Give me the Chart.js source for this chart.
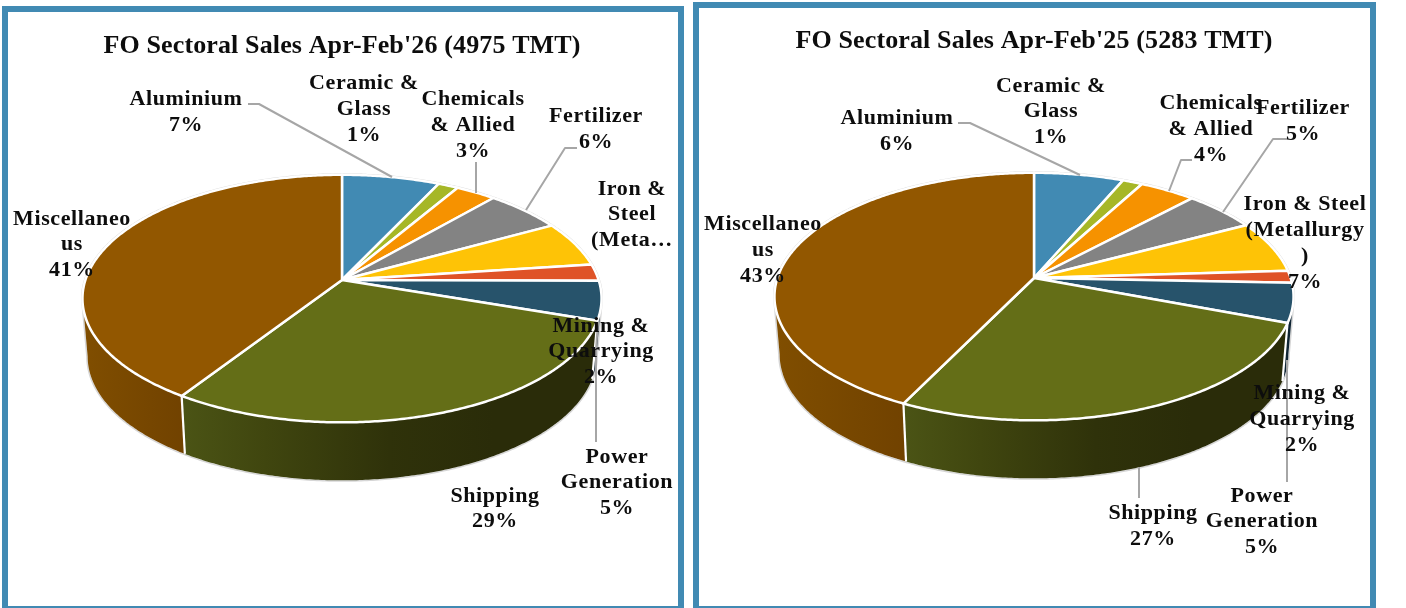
<!DOCTYPE html>
<html><head><meta charset="utf-8">
<script src="https://cdn.jsdelivr.net/npm/chart.js@4"></script>
<style>
html,body{margin:0;padding:0;background:#fff;overflow:hidden;width:1406px;height:608px}
.panel{position:absolute;box-sizing:border-box;border:6px solid #418AB3;background:#fff}
canvas{position:absolute;top:0}
</style></head><body>
<div class="panel" style="left:2px;top:6px;width:682px;height:606px"></div>
<div class="panel" style="left:693px;top:2px;width:683px;height:610px"></div>
<canvas id="c1" width="684" height="608" style="left:0;width:684px;height:608px"></canvas>
<canvas id="c2" width="680" height="608" style="left:694px;width:680px;height:608px"></canvas>
<script>
const categories = ["Aluminium","Ceramic & Glass","Chemicals & Allied","Fertilizer","Iron & Steel (Metallurgy)","Mining & Quarrying","Power Generation","Shipping","Miscellaneous"];
const sales26 = [7.05,1.45,2.9,5.6,5.9,2.2,5.1,29.0,40.8];
const sales25 = [6.45,1.45,4.05,5.3,6.75,1.6,5.1,26.5,42.7];
const title26 = "FO Sectoral Sales Apr-Feb'26 (4975 TMT)";
const title25 = "FO Sectoral Sales Apr-Feb'25 (5283 TMT)";
const lines26 = [["Aluminium"],["Ceramic &","Glass"],["Chemicals","& Allied"],["Fertilizer"],["Iron &","Steel","(Meta…"],["Mining &","Quarrying"],["Power","Generation"],["Shipping"],["Miscellaneo","us"]];
const lines25 = [["Aluminium"],["Ceramic &","Glass"],["Chemicals","& Allied"],["Fertilizer"],["Iron & Steel","(Metallurgy",")"],["Mining &","Quarrying"],["Power","Generation"],["Shipping"],["Miscellaneo","us"]];
const hidePct26 = [4];
const hidePct25 = [];
const colors = ["#418AB3","#A6B727","#F69200","#838383","#FEC306","#DF5327","#27536B","#646E17","#925700"];

// layout of the hand-placed labels: [centre x, first line centre y, line step] (page coordinates)
const labelPos26 = [[186,99,26],[364,83,26],[473,99,26],[596,116,26],[632,189,25.5],[601,326,25.5],[617,457,25.5],[495,496,25.5],[72,219,25.5]];
const labelPos25 = [[897,118,26],[1051,86,25.5],[1211,103,26],[1303,108,26],[1305,204,26],[1302,393,26],[1262,496,25.5],[1153,513,26],[763,224,26]];
const leaders26 = [[[248,104],[259,104],[392,177]],[[476,162],[476,193]],[[577,148],[565,148],[526,210]],[[596,442],[596,350],[598,322]]];
const leaders25 = [[[958,123],[970,123],[1080,175]],[[1192,160],[1181,160],[1169,191]],[[1287,139],[1273,139],[1223,212]],[[1139,467],[1139,498]],[[1287,482],[1287,360]]];

const K = 0.15, YR = 0.4715, DEPTH = 58, XS = 0.98;
const wallStops = {
  6:[[0,"#0f2433"],[1,"#0f2433"]],
  7:[[0,"#4b5415"],[0.2,"#40460f"],[0.5,"#2f320a"],[0.75,"#2a2c09"],[1,"#2a2c09"]],
  8:[[0,"#804e00"],[1,"#714200"]]
};
function pieProjection(chart){
  const ctx = chart.ctx;
  const project = (cx,cy,r,a)=>{const u=Math.cos(a),v=Math.sin(a),w=1-K*v;return [cx+r*u/w,cy+r*YR*v/w];};
  const low = (cx,p)=>[cx+(p[0]-cx)*XS,p[1]+DEPTH];
  const arcs = chart.getDatasetMeta(0).data;
  const {x:cx,y:cy,outerRadius:r} = arcs[0].getProps(['x','y','outerRadius'],true);
  const sil = Math.asin(K);
  const vis0 = sil, vis1 = Math.PI - sil;
  const sample = (a0,a1)=>{const n=Math.max(2,Math.ceil(Math.abs(a1-a0)/0.01));const o=[];for(let i=0;i<=n;i++)o.push(project(cx,cy,r,a0+(a1-a0)*i/n));return o;};
  ctx.save();
  ctx.beginPath();
  sample(vis1-2*Math.PI,vis0).forEach((p,i)=>i?ctx.lineTo(p[0],p[1]):ctx.moveTo(p[0],p[1]));
  sample(vis0,vis1).map(p=>low(cx,p)).forEach(p=>ctx.lineTo(p[0],p[1]));
  ctx.closePath();
  ctx.lineWidth=3;ctx.strokeStyle="#d6d6d6";ctx.stroke();
  ctx.fillStyle="#fff";ctx.fill();
  const seams=[];
  arcs.forEach((arc,i)=>{
    const {startAngle:s,endAngle:e}=arc.getProps(['startAngle','endAngle'],true);
    const a0=Math.max(s,vis0),a1=Math.min(e,vis1);
    if(a1<=a0) return;
    const top=sample(a0,a1),bot=top.map(p=>low(cx,p));
    const xs=top.concat(bot).map(p=>p[0]);
    const xmin=Math.min(...xs),xmax=Math.max(...xs);
    const g=ctx.createLinearGradient(xmin,0,xmax,0);
    (wallStops[i]||[[0,"#333"],[1,"#333"]]).forEach(t=>g.addColorStop(t[0],t[1]));
    ctx.beginPath();
    top.forEach((p,j)=>j?ctx.lineTo(p[0],p[1]):ctx.moveTo(p[0],p[1]));
    bot.reverse().forEach(p=>ctx.lineTo(p[0],p[1]));
    ctx.closePath();ctx.fillStyle=g;ctx.fill();
    if(s>vis0&&s<vis1) seams.push(s);
  });
  ctx.strokeStyle="#fff";ctx.lineWidth=2.2;
  seams.forEach(a=>{const p=project(cx,cy,r,a),q=low(cx,p);ctx.beginPath();ctx.moveTo(p[0],p[1]);ctx.lineTo(q[0],q[1]);ctx.stroke();});
  arcs.forEach((arc,i)=>{
    const {startAngle:s,endAngle:e}=arc.getProps(['startAngle','endAngle'],true);
    ctx.beginPath();ctx.moveTo(cx,cy);
    sample(s,e).forEach(p=>ctx.lineTo(p[0],p[1]));
    ctx.closePath();
    ctx.fillStyle=colors[i];ctx.fill();
    ctx.lineJoin="round";ctx.strokeStyle="#fff";ctx.lineWidth=2.5;ctx.stroke();
  });
  ctx.restore();
}
function makeChart(id,values,title,lines,hide,pos,leaders,offX,titlePad){
  const labelPlugin={
    id:'pieLabels',
    beforeDraw(chart){chart.ctx.letterSpacing="0.13px";},
    beforeDatasetDraw(chart){chart.ctx.letterSpacing="0px";pieProjection(chart);return false;},
    afterDraw(chart){
      const ctx=chart.ctx;ctx.save();
      ctx.strokeStyle="#A6A6A6";ctx.lineWidth=2;ctx.lineJoin="round";
      leaders.forEach(l=>{ctx.beginPath();l.forEach((p,j)=>j?ctx.lineTo(p[0]-offX,p[1]):ctx.moveTo(p[0]-offX,p[1]));ctx.stroke();});
      ctx.fillStyle="#0d0d0d";ctx.font="bold 22px 'Liberation Serif'";ctx.letterSpacing="0.6px";ctx.textAlign="center";ctx.textBaseline="middle";
      lines.forEach((ls,i)=>{
        const t=ls.slice();if(!hide.includes(i))t.push(Math.round(values[i])+"%");
        t.forEach((s,j)=>ctx.fillText(s,pos[i][0]-offX,pos[i][1]+j*pos[i][2]));
      });
      ctx.restore();
    }
  };
  return new Chart(document.getElementById(id),{
    type:'pie',
    data:{labels:categories,datasets:[{data:values,backgroundColor:colors,borderColor:"#fff",borderWidth:2,radius:256.6}]},
    options:{responsive:false,animation:false,
      layout:{padding:{bottom:titlePad.b}},
      plugins:{legend:{display:false},tooltip:{enabled:false},
        title:{display:true,text:title,color:"#0d0d0d",font:{family:"'Liberation Serif'",size:26,weight:'bold',lineHeight:1.2},padding:{top:titlePad.t,bottom:0}}}},
    plugins:[labelPlugin]
  });
}
makeChart('c1',sales26,title26,lines26,hidePct26,labelPos26,leaders26,0,{t:31,b:110.2});
makeChart('c2',sales25,title25,lines25,hidePct25,labelPos25,leaders25,694,{t:26,b:109.2});
</script>
</body></html>
